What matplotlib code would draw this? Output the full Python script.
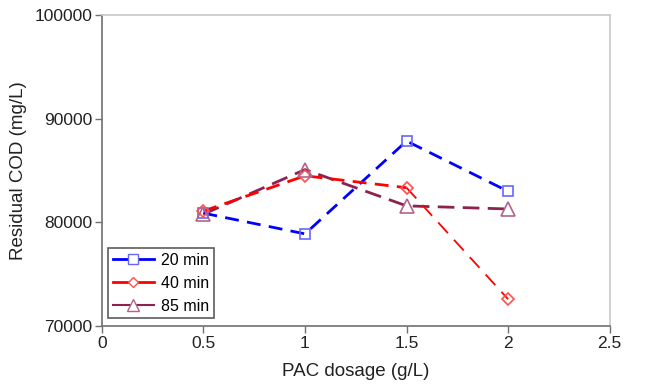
import matplotlib
matplotlib.use("Agg")
import matplotlib.pyplot as plt
from matplotlib.lines import Line2D
from matplotlib.ticker import FormatStrFormatter, FuncFormatter

plt.rcParams['font.family'] = ['Liberation Sans', 'DejaVu Sans']

# PAC dosage (g/L)
dosage = [0.5, 1.0, 1.5, 2.0]
# residual COD (mg/L) at each contact time
cod_20 = [80900, 78900, 87850, 83000]
cod_40 = [81100, 84500, 83350, 72600]
cod_85 = [80800, 85100, 81600, 81300]
labels = ['20 min', '40 min', '85 min']

fig = plt.figure(figsize=(6.7, 3.86), dpi=100)
ax = fig.add_axes([0.152, 0.155, 0.758, 0.806])

# lines
ax.plot(dosage, cod_20, color='#0000ff', lw=2.0, ls=(0, (5, 3)), zorder=3)
ax.plot(dosage[:3], cod_40[:3], color='#ff0000', lw=2.0, ls=(0, (5, 3)), zorder=3)
ax.plot(dosage[2:], cod_40[2:], color='#ff0000', lw=1.3, ls=(0, (8, 5)), zorder=3)
ax.plot(dosage, cod_85, color='#8b2252', lw=2.0, ls=(0, (6, 3)), zorder=2)

# hollow markers
ax.plot(dosage, cod_20, ls='none', marker='s', ms=7.5, mfc='none', mec='#6666ff', mew=1.2, zorder=4)
ax.plot(dosage, cod_40, ls='none', marker='D', ms=6.5, mfc='none', mec='#ff5050', mew=1.2, zorder=4)
ax.plot(dosage, cod_85, ls='none', marker='^', ms=9.5, mfc='none', mec='#b0648c', mew=1.2, zorder=4)

ax.set_xlim(0, 2.5)
ax.set_ylim(70000, 100000)
ax.set_xticks([0, 0.5, 1, 1.5, 2, 2.5])
ax.set_yticks([70000, 80000, 90000, 100000])
ax.xaxis.set_major_formatter(FuncFormatter(lambda v, p: '%g' % v))
ax.yaxis.set_major_formatter(FormatStrFormatter('%d'))
ax.tick_params(direction='out', length=5, width=1, colors='#707070', labelcolor='#222222',
               labelsize=12.5, pad=2)

for s in ['left', 'bottom']:
    ax.spines[s].set_color('#707070')
    ax.spines[s].set_linewidth(1.2)
for s in ['top', 'right']:
    ax.spines[s].set_color('#c8c8c8')
    ax.spines[s].set_linewidth(1.2)

ax.set_xlabel('PAC dosage (g/L)', fontsize=13.5, color='#222222', labelpad=8.5)
ax.set_ylabel('Residual COD (mg/L)', fontsize=13.5, color='#222222', labelpad=5)

handles = [
    Line2D([], [], color='#0000ff', lw=2, marker='s', ms=6.5, mfc='white', mec='#6666ff'),
    Line2D([], [], color='#ff0000', lw=2, marker='D', ms=5, mfc='white', mec='#ff5050'),
    Line2D([], [], color='#8b2252', lw=1.5, marker='^', ms=8, mfc='white', mec='#b0648c'),
]
leg = ax.legend(handles, labels, loc='lower left', bbox_to_anchor=(0.012, 0.025),
                fontsize=11.5, frameon=True, fancybox=False, handlelength=2.6,
                handletextpad=0.4, borderpad=0.3, labelspacing=0.5, borderaxespad=0)
leg.get_frame().set_edgecolor('#333333')
leg.get_frame().set_linewidth(1.2)

fig.savefig('out.png', dpi=100)
